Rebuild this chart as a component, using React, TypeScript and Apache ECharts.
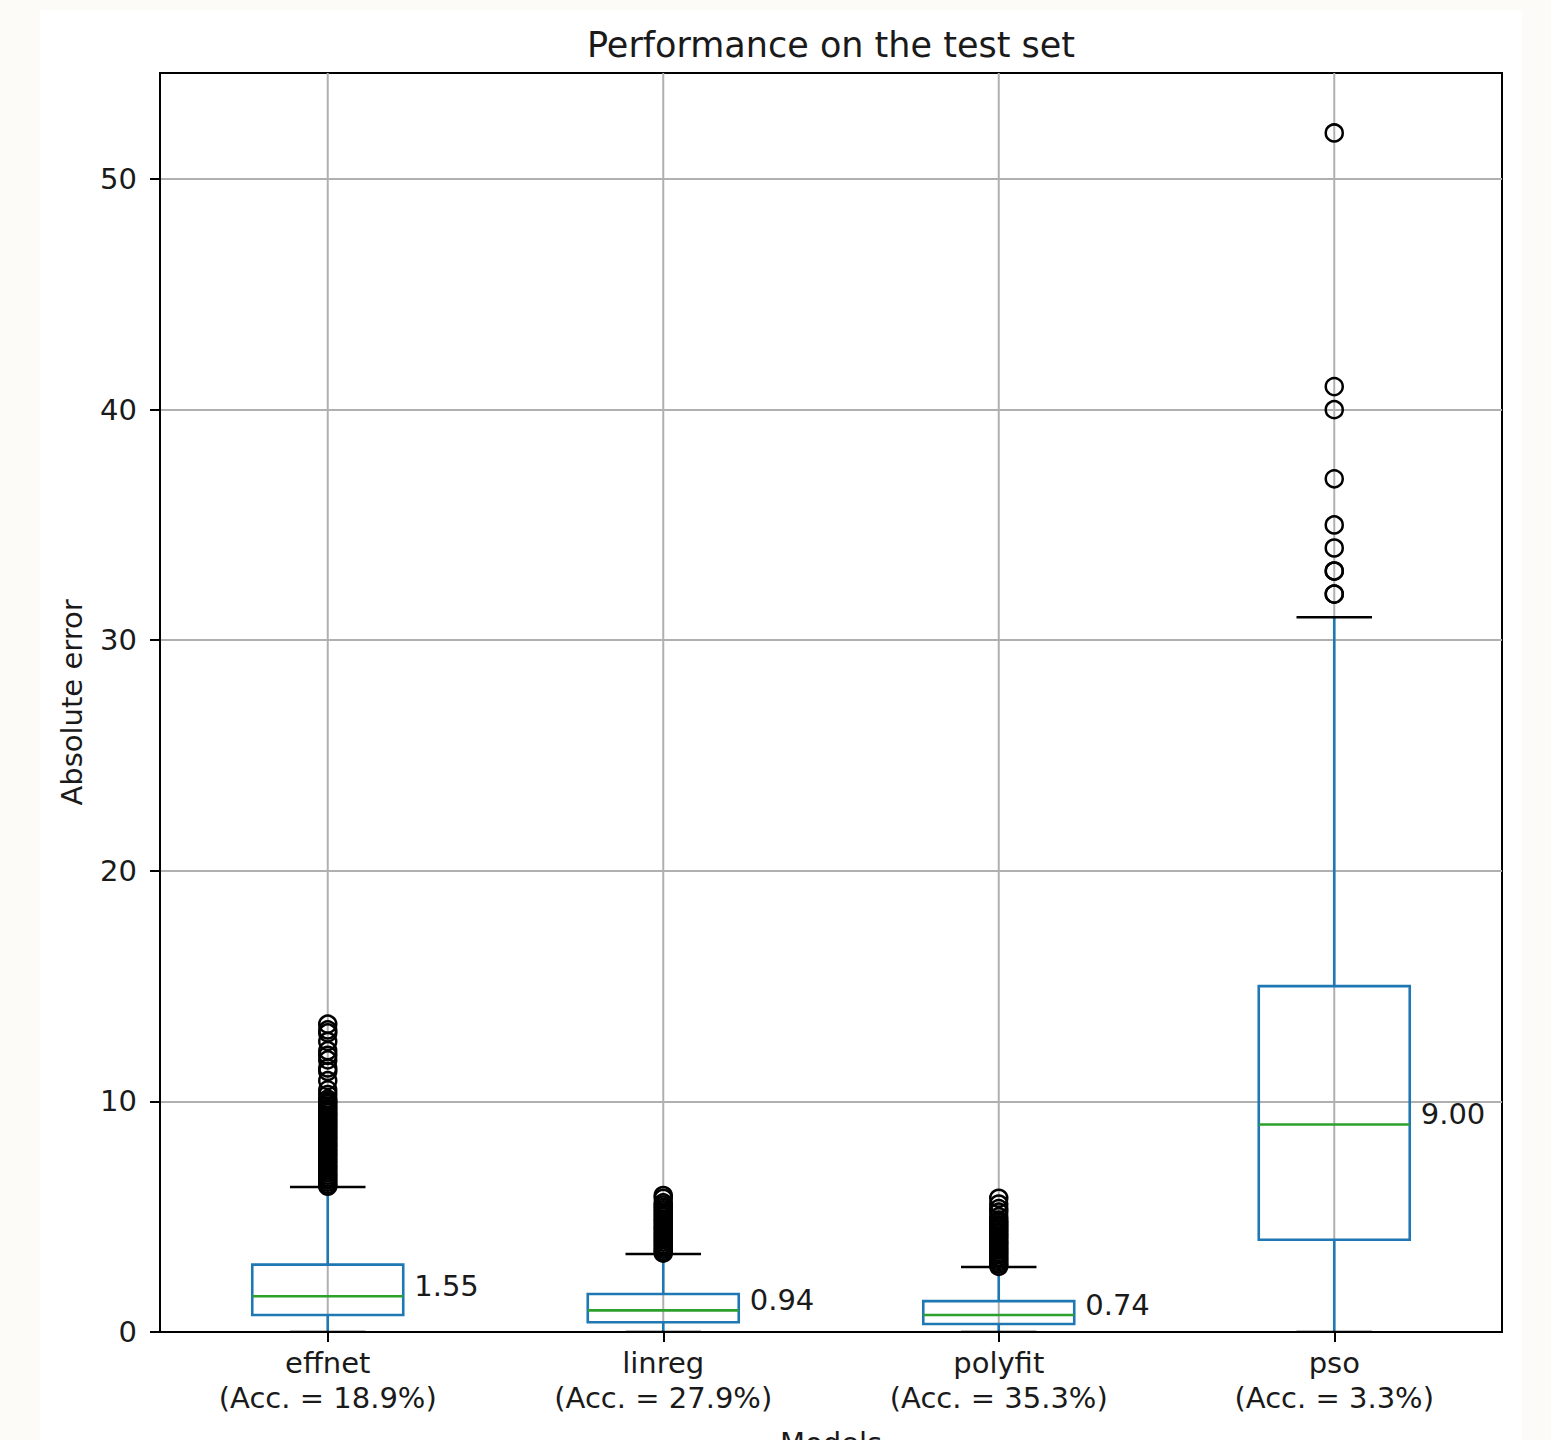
import React, { useEffect, useRef } from "react";
import * as echarts from "echarts";

const models = ["effnet", "linreg", "polyfit", "pso"];
const accuracy = ["18.9", "27.9", "35.3", "3.3"];
const whiskerLow = [0, 0, 0, 0];
const q1 = [0.74, 0.42, 0.35, 4.0];
const median = [1.55, 0.94, 0.74, 9.0];
const q3 = [2.92, 1.65, 1.34, 15.0];
const whiskerHigh = [6.29, 3.38, 2.82, 31.0];

const effnetOutliers = [
  6.32, 6.4, 6.5, 6.6, 6.7, 6.8, 6.9, 7.0, 7.1, 7.2, 7.3, 7.4, 7.5, 7.6, 7.7,
  7.8, 7.9, 8.0, 8.1, 8.2, 8.3, 8.4, 8.5, 8.6, 8.7, 8.8, 8.9, 9.0, 9.1, 9.2,
  9.3, 9.4, 9.5, 9.6, 9.7, 9.8, 9.9, 10.0, 10.1, 10.3, 10.5, 10.9, 11.3,
  11.45, 11.8, 12.0, 12.2, 12.6, 12.97, 13.1, 13.35,
];
const linregOutliers = [
  3.42, 3.5, 3.6, 3.7, 3.8, 3.9, 4.0, 4.1, 4.2, 4.3, 4.4, 4.5, 4.6, 4.7, 4.8,
  4.9, 5.0, 5.1, 5.2, 5.3, 5.4, 5.5, 5.6, 5.8, 5.92,
];
const polyfitOutliers = [
  2.85, 2.95, 3.05, 3.15, 3.25, 3.35, 3.45, 3.55, 3.65, 3.75, 3.85, 3.95, 4.05,
  4.15, 4.25, 4.35, 4.45, 4.55, 4.65, 4.75, 4.85, 5.0, 5.2, 5.35, 5.55, 5.8,
];
const psoOutliers = [32, 32, 33, 33, 34, 35, 37, 40, 41, 52];
const outliers = [effnetOutliers, linregOutliers, polyfitOutliers, psoOutliers];

const yTicks = [0, 10, 20, 30, 40, 50];
const yMax = 54.6;

const FONT = "DejaVu Sans";
const TEXT = "#1a1a1a";
const BLUE = "#1f77b4";
const GREEN = "#2ca02c";
const GRIDC = "#b0b0b0";

export default function App() {
  const ref = useRef<HTMLDivElement>(null);

  useEffect(() => {
    document.body.style.margin = "0";
    if (!ref.current) return;
    const chart = echarts.init(ref.current, null, { renderer: "svg" });

    const boxData = models.map((_, i) => [
      i,
      whiskerLow[i],
      q1[i],
      median[i],
      q3[i],
      whiskerHigh[i],
    ]);
    const outlierData: number[][] = [];
    outliers.forEach((arr, i) => arr.forEach((v) => outlierData.push([i, v])));

    const option: any = {
      animation: false,
      grid: {
        left: 160,
        top: 73,
        width: 1342,
        height: 1259,
        outerBoundsMode: "none",
        containLabel: false,
        show: true,
        borderColor: "#000",
        borderWidth: 2,
        backgroundColor: "transparent",
      },
      graphic: [
        {
          type: "text",
          x: 831,
          y: 45,
          style: {
            text: "Performance on the test set",
            fontFamily: FONT,
            fontSize: 35,
            fill: TEXT,
            align: "center",
            verticalAlign: "middle",
          },
        },
      ],
      xAxis: {
        type: "category",
        data: models.map((m, i) => `${m}\n(Acc. = ${accuracy[i]}%)`),
        name: "Models",
        nameLocation: "middle",
        nameGap: 96,
        nameTextStyle: { fontFamily: FONT, fontSize: 29, color: TEXT },
        axisLine: { show: true, lineStyle: { color: "#000", width: 2 } },
        axisTick: {
          show: true,
          alignWithLabel: true,
          length: 10,
          lineStyle: { color: "#000", width: 2 },
        },
        axisLabel: {
          fontFamily: FONT,
          fontSize: 29,
          lineHeight: 35,
          margin: 13,
          color: TEXT,
        },
        splitLine: { show: false },
      },
      yAxis: {
        type: "value",
        min: 0,
        max: yMax,
        interval: 10,
        name: "Absolute error",
        nameLocation: "middle",
        nameGap: 74,
        nameTextStyle: { fontFamily: FONT, fontSize: 29, color: TEXT },
        axisLine: { show: true, lineStyle: { color: "#000", width: 2 } },
        axisTick: {
          show: true,
          length: 10,
          customValues: yTicks,
          lineStyle: { color: "#000", width: 2 },
        },
        axisLabel: {
          fontFamily: FONT,
          fontSize: 29,
          margin: 23,
          color: TEXT,
          customValues: yTicks,
        },
        splitLine: { show: true, lineStyle: { color: GRIDC, width: 2 } },
      },
      series: [
        {
          type: "custom",
          clip: true,
          data: boxData,
          encode: { x: 0, y: [1, 2, 3, 4, 5] },
          renderItem: (params: any, api: any) => {
            const i = api.value(0);
            const cs = params.coordSys;
            const x = api.coord([i, 0])[0];
            const band = api.size([1, 0])[0];
            const bw = band * 0.45;
            const cw = bw / 2;
            const yLow = api.coord([i, api.value(1)])[1];
            const yQ1 = api.coord([i, api.value(2)])[1];
            const yMed = api.coord([i, api.value(3)])[1];
            const yQ3 = api.coord([i, api.value(4)])[1];
            const yHigh = api.coord([i, api.value(5)])[1];
            const lw = 2.6;
            return {
              type: "group",
              children: [
                {
                  type: "line",
                  shape: { x1: x, y1: cs.y, x2: x, y2: cs.y + cs.height },
                  style: { stroke: GRIDC, lineWidth: 2 },
                },
                {
                  type: "line",
                  shape: { x1: x, y1: yQ3, x2: x, y2: yHigh },
                  style: { stroke: BLUE, lineWidth: lw },
                },
                {
                  type: "line",
                  shape: { x1: x, y1: yQ1, x2: x, y2: yLow },
                  style: { stroke: BLUE, lineWidth: lw },
                },
                {
                  type: "line",
                  shape: { x1: x - cw / 2, y1: yHigh, x2: x + cw / 2, y2: yHigh },
                  style: { stroke: "#000", lineWidth: lw },
                },
                {
                  type: "line",
                  shape: { x1: x - cw / 2, y1: yLow, x2: x + cw / 2, y2: yLow },
                  style: { stroke: "#000", lineWidth: lw },
                },
                {
                  type: "rect",
                  shape: { x: x - bw / 2, y: yQ3, width: bw, height: yQ1 - yQ3 },
                  style: { fill: "none", stroke: BLUE, lineWidth: lw },
                },
                {
                  type: "line",
                  shape: { x1: x - bw / 2, y1: yMed, x2: x + bw / 2, y2: yMed },
                  style: { stroke: GREEN, lineWidth: lw },
                },
                {
                  type: "text",
                  x: x + bw / 2 + 11,
                  y: yMed - 10,
                  style: {
                    text: Number(api.value(3)).toFixed(2),
                    fontFamily: FONT,
                    fontSize: 29,
                    fill: TEXT,
                    align: "left",
                    verticalAlign: "middle",
                  },
                },
              ],
            };
          },
        },
        {
          type: "scatter",
          data: outlierData,
          symbol: "circle",
          symbolSize: 17,
          itemStyle: {
            color: "rgba(0,0,0,0)",
            borderColor: "#000",
            borderWidth: 2.5,
            opacity: 1,
          },
          emphasis: { disabled: true },
        },
      ],
    };

    chart.setOption(option);
    return () => chart.dispose();
  }, []);

  return (
    <div
      style={{
        position: "relative",
        width: 1551,
        height: 1440,
        background: "#fcfbf7",
        overflow: "hidden",
      }}
    >
      <div
        style={{
          position: "absolute",
          left: 40,
          top: 10,
          width: 1482,
          height: 1430,
          background: "#ffffff",
        }}
      />
      <div
        ref={ref}
        style={{ position: "absolute", left: 0, top: 0, width: 1551, height: 1440 }}
      />
    </div>
  );
}
